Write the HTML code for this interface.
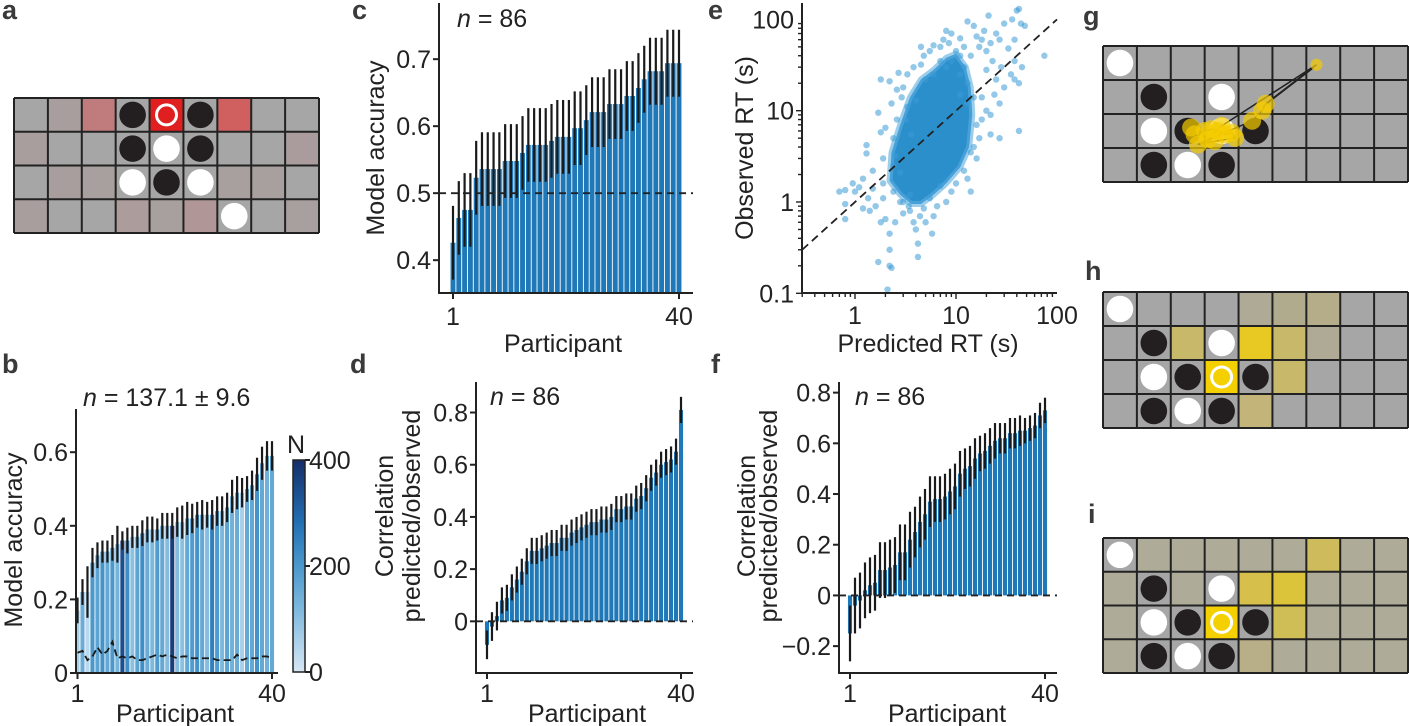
<!DOCTYPE html>
<html><head><meta charset="utf-8">
<style>
html,body{margin:0;padding:0;background:#fff;}
svg{display:block;font-family:"Liberation Sans",Arial,sans-serif;}
.tk{font-size:25px;fill:#222;}
.lab{font-size:25px;fill:#222;}
.let{font-size:27px;font-weight:bold;fill:#3a3a3a;}
</style></head>
<body>
<svg id="fig" width="1409" height="726" viewBox="0 0 1409 726" xmlns="http://www.w3.org/2000/svg"></svg>
<script>
// ---------- DATA ----------
const participants = Array.from({length:40},(_,i)=>i+1);
const accB = [0.17,0.22,0.22,0.30,0.32,0.33,0.33,0.34,0.35,0.36,0.36,0.37,0.37,0.38,0.39,0.39,0.39,0.40,0.40,0.40,0.41,0.41,0.42,0.42,0.43,0.43,0.43,0.43,0.44,0.44,0.45,0.48,0.49,0.49,0.50,0.51,0.54,0.57,0.59,0.59];
const errB = [0.035,0.035,0.07,0.04,0.035,0.03,0.03,0.035,0.05,0.025,0.035,0.03,0.03,0.035,0.035,0.035,0.03,0.035,0.035,0.035,0.04,0.045,0.045,0.04,0.035,0.04,0.035,0.04,0.04,0.04,0.04,0.045,0.045,0.04,0.035,0.04,0.045,0.045,0.04,0.04];
const nB = [60,150,40,200,170,210,160,200,130,340,220,100,170,220,150,120,190,160,110,370,110,100,160,190,210,160,110,250,190,120,170,140,150,60,160,160,210,160,140,160];
const chanceB = [0.055,0.06,0.035,0.045,0.07,0.05,0.06,0.085,0.04,0.045,0.04,0.045,0.035,0.035,0.04,0.045,0.05,0.045,0.05,0.045,0.04,0.045,0.045,0.04,0.04,0.04,0.04,0.04,0.035,0.035,0.035,0.035,0.05,0.035,0.04,0.04,0.04,0.045,0.045,0.04];
const accC = [0.426,0.463,0.475,0.475,0.523,0.536,0.536,0.536,0.536,0.548,0.548,0.548,0.560,0.572,0.572,0.572,0.572,0.578,0.584,0.584,0.584,0.597,0.597,0.609,0.621,0.621,0.621,0.633,0.633,0.633,0.645,0.645,0.657,0.670,0.682,0.682,0.682,0.694,0.694,0.694];
const errC = [0.055,0.055,0.055,0.055,0.055,0.055,0.055,0.055,0.055,0.055,0.055,0.055,0.055,0.055,0.055,0.055,0.055,0.055,0.055,0.055,0.055,0.055,0.055,0.052,0.052,0.052,0.052,0.052,0.052,0.052,0.052,0.052,0.052,0.05,0.05,0.05,0.05,0.05,0.05,0.05];
const corrD = [-0.09,-0.02,0.02,0.08,0.09,0.13,0.16,0.19,0.23,0.27,0.27,0.28,0.29,0.30,0.30,0.32,0.32,0.34,0.35,0.36,0.37,0.38,0.38,0.39,0.39,0.40,0.43,0.43,0.44,0.44,0.47,0.48,0.51,0.55,0.57,0.60,0.61,0.62,0.65,0.81];
const errD = [0.055,0.055,0.055,0.05,0.05,0.05,0.05,0.05,0.05,0.05,0.05,0.05,0.05,0.05,0.05,0.05,0.05,0.05,0.05,0.05,0.05,0.05,0.05,0.05,0.05,0.05,0.05,0.05,0.05,0.05,0.05,0.05,0.05,0.05,0.05,0.05,0.05,0.05,0.05,0.05];
const corrF = [-0.15,-0.04,-0.02,0.02,0.04,0.05,0.10,0.10,0.11,0.12,0.17,0.17,0.22,0.25,0.29,0.32,0.37,0.38,0.38,0.39,0.41,0.43,0.48,0.50,0.51,0.54,0.56,0.57,0.59,0.61,0.62,0.62,0.64,0.64,0.65,0.65,0.66,0.67,0.71,0.73];
const errF = [0.11,0.11,0.11,0.11,0.11,0.11,0.11,0.11,0.11,0.11,0.11,0.11,0.11,0.1,0.1,0.1,0.1,0.09,0.09,0.09,0.09,0.09,0.09,0.08,0.08,0.08,0.07,0.07,0.07,0.07,0.06,0.06,0.06,0.06,0.06,0.05,0.05,0.05,0.05,0.05];
// scatter e: [predicted, observed] seconds
const rtPoints = [[0.7,1.3],[0.8,1.35],[0.8,0.95],[0.8,0.65],[0.95,1.6],[1.0,1.3],[1.1,1.45],[1.2,1.8],[1.2,0.85],[1.3,4.2],[1.3,3.4],[1.35,1.1],[1.4,0.8],[1.5,2.2],[1.6,0.9],[1.7,9.5],[1.8,22],[1.8,5.8],[1.8,0.6],[1.7,0.22],[1.9,1.1],[1.9,3.0],[2.0,6.5],[2.0,0.65],[2.1,0.11],[2.2,21],[2.2,0.45],[2.2,0.3],[2.2,0.2],[2.3,0.19],[2.3,12],[2.4,2.5],[2.5,0.6],[2.6,17],[2.7,26],[2.8,1.0],[3.0,18],[3.0,0.75],[3.2,8],[3.3,25],[3.5,0.8],[3.8,30],[3.8,0.6],[4.0,0.5],[4.2,0.25],[4.2,0.35],[4.4,0.7],[4.5,50],[4.8,40],[5.5,45],[5.8,0.45],[6.0,52],[6.5,0.9],[7,50],[7.5,60],[8,75],[8.5,55],[9,70],[10,45],[11,62],[12,50],[13,95],[14,40],[15,85],[16,65],[17,50],[18,60],[19,75],[20,45],[21,110],[22,55],[23,35],[25,70],[27,60],[30,90],[33,48],[36,100],[38,60],[40,125],[42,130],[44,90],[48,85],[38,35],[45,30],[42,20],[38,22],[35,25],[30,18],[28,30],[27,12],[24,15],[22,9],[20,10],[18,8],[17,5],[15,4],[16,3],[14,3.5],[22,5.5],[27,5],[42,6],[75,40],[12,2.2],[14,1.3],[13,1.8],[16,7],[15,14],[20,28],[25,22],[18,14],[9,1.3],[8,1.0],[7,1.5],[10,1.6],[6,0.7],[5,0.6],[3.5,1.2],[2.8,2.1],[2.5,3.2],[2.4,5],[2.9,14],[3.3,11],[4,13],[5,22],[6,25],[8,30],[9,35],[11,40],[12,30],[13,20],[11,25],[7,35],[4.5,32],[1.5,1.4],[1.9,1.6],[2.4,1.3],[3,1.0],[3.4,0.9],[4.8,0.85],[5.5,1.1],[2.6,8],[3.6,5.5],[11,15],[13,12]];
const rtCore = [[2.2,1.7],[2.8,1.2],[3.6,0.95],[4.5,0.95],[6,1.2],[8,1.6],[11,2.4],[13.5,4],[14.5,9],[14,18],[12.5,30],[10,42],[8,38],[6,28],[4.5,22],[3.5,14],[2.8,7],[2.3,3.5]];
const cbTicks = [0,200,400];
const tickB = [0,0.2,0.4,0.6], tickC=[0.4,0.5,0.6,0.7], tickD=[0,0.2,0.4,0.6,0.8], tickF=[-0.2,0,0.2,0.4,0.6,0.8];
const logTicksX=[1,10,100], logTicksY=[0.1,1,10,100];

// ---------- helpers ----------
const NS="http://www.w3.org/2000/svg";
const svg=document.getElementById('fig');
function el(tag,attrs,parent,txt){const e=document.createElementNS(NS,tag);for(const k in attrs)e.setAttribute(k,attrs[k]);if(txt!==undefined)e.textContent=txt;(parent||svg).appendChild(e);return e;}
function grp(name){const g=el('g',{});return g;}
function txt(parent,x,y,s,cls,anchor,name,extra){const t=el('text',Object.assign({x:x,y:y,class:cls,'text-anchor':anchor||'start'},extra||{}),parent,s);return t;}
function blues(v){
  const stops=[[0,[215,230,245]],[0.3,[125,184,221]],[0.5,[75,152,204]],[0.7,[33,113,181]],[1,[22,45,105]]];
  for(let i=1;i<stops.length;i++){if(v<=stops[i][0]){const a=stops[i-1],b=stops[i],t=(v-a[0])/(b[0]-a[0]);return 'rgb('+a[1].map((c,j)=>Math.round(c+(b[1][j]-c)*t)).join(',')+')';}}
  return 'rgb(22,45,105)';
}

function barPanel(o){
  const g=grp(o.name);
  const x=i=>o.x1+(o.x40-o.x1)*(i-1)/39;
  const y=v=>o.y0-(v-o.v0)*o.ppu;
  const bw=(o.x40-o.x1)/39-0.9;
  const zeroY = y(o.base);
  o.vals.forEach((v,i)=>{
    const p=participants[i];
    const top=Math.min(y(v),zeroY), h=Math.abs(y(v)-zeroY);
    const r=el('rect',{x:x(p)-bw/2,y:top,width:bw,height:h,fill:o.color?o.color(i):'#1f78b8'},g);
    
    
  });
  o.vals.forEach((v,i)=>{
    const p=participants[i];
    const l=el('line',{x1:x(p),x2:x(p),y1:y(v-o.err[i]),y2:y(v+o.err[i]),stroke:'#1a1a1a','stroke-width':2.2},g);
    
    
  });
  if(o.dash!==undefined){
    const d=el('line',{x1:o.ax,x2:o.axr,y1:y(o.dash),y2:y(o.dash),stroke:'#222','stroke-width':1.8,'stroke-dasharray':'7,5'},g);
    
  }
  const ya=el('path',{d:`M${o.ax},${o.top}V${o.y0}H${o.axr}`,fill:'none',stroke:'#222','stroke-width':2},g);
  
  o.ticks.forEach(t=>{
    el('line',{x1:o.ax-6,x2:o.ax,y1:y(t),y2:y(t),stroke:'#222','stroke-width':2},g);
    txt(g,o.ax-8,y(t)+9,String(t).replace('-','\u2212'),'tk','end','y-tick-label');
  });
  [1,40].forEach(p=>{el('line',{x1:x(p),x2:x(p),y1:o.y0,y2:o.y0+6,stroke:'#222','stroke-width':2},g);
    txt(g,x(p),o.tkY,String(p),'tk','middle','x-tick-label');});
  txt(g,o.xlabX,o.xlabY,'Participant','lab','middle','x-axis-title');
  return {g,x,y};
}

// ---------- panel b ----------
const pb=barPanel({name:'panel-b-chart',x1:77.5,x40:272,ax:76,axr:278,top:409,y0:673,v0:0,base:0,ppu:368,vals:accB,err:errB,ticks:tickB,
  color:i=>blues(nB[i]/400),tkY:702,xlabX:175,xlabY:722});
{
  const pts=chanceB.map((v,i)=>pb.x(participants[i])+','+pb.y(v)).join(' ');
  const pl=el('polyline',{points:pts,fill:'none',stroke:'#1a1a1a','stroke-width':1.8,'stroke-dasharray':'7,4'},pb.g);
  
  const cb=grp('colorbar');
  const defs=el('defs',{},cb);const lg=el('linearGradient',{id:'cbg',x1:0,y1:1,x2:0,y2:0},defs);
  for(let s=0;s<=10;s++)el('stop',{offset:s/10,'stop-color':blues(s/10)},lg);
  el('rect',{x:293,y:460,width:12,height:212,fill:'url(#cbg)',stroke:'#222','stroke-width':1.5},cb);
  cbTicks.forEach(t=>{const yy=672-t/400*212;el('line',{x1:305,x2:310,y1:yy,y2:yy,stroke:'#222','stroke-width':2},cb);txt(cb,309,yy+9,String(t),'tk','start','colorbar-tick');});
  txt(cb,287,453,'N','tk','start','colorbar-title');
}
txt(svg,83,406,'','lab','start','panel-b-n').innerHTML='<tspan font-style="italic">n</tspan> = 137.1 ± 9.6';
txt(svg,0,0,'Model accuracy','lab','middle','y-axis-title',{transform:'translate(22,540) rotate(-90)'});

// ---------- panel c ----------
barPanel({name:'panel-c-chart',x1:453,x40:679,ax:439,axr:693,top:3,y0:293,v0:0.351,base:0.351,ppu:670,vals:accC,err:errC,ticks:tickC,dash:0.5,tkY:325,xlabX:563,xlabY:352});
txt(svg,457,27,'','lab','start','panel-c-n').innerHTML='<tspan font-style="italic">n</tspan> = 86';
txt(svg,0,0,'Model accuracy','lab','middle','y-axis-title',{transform:'translate(384,148) rotate(-90)'});

// ---------- panel d ----------
barPanel({name:'panel-d-chart',x1:487,x40:681,ax:476,axr:693,top:382,y0:673,v0:-0.198,base:0,ppu:261,vals:corrD,err:errD,ticks:tickD,dash:0,tkY:702,xlabX:587,xlabY:722});
txt(svg,490,405,'','lab','start','panel-d-n').innerHTML='<tspan font-style="italic">n</tspan> = 86';
txt(svg,0,0,'Correlation','lab','middle','y-axis-title',{transform:'translate(393,516) rotate(-90)'});
txt(svg,0,0,'predicted/observed','lab','middle','y-axis-title',{transform:'translate(420,516) rotate(-90)'});

// ---------- panel f ----------
barPanel({name:'panel-f-chart',x1:850,x40:1045,ax:839,axr:1057,top:382,y0:673,v0:-0.306,base:0,ppu:253.5,vals:corrF,err:errF,ticks:tickF,dash:0,tkY:702,xlabX:947,xlabY:722});
txt(svg,855,405,'','lab','start','panel-f-n').innerHTML='<tspan font-style="italic">n</tspan> = 86';
txt(svg,0,0,'Correlation','lab','middle','y-axis-title',{transform:'translate(755,516) rotate(-90)'});
txt(svg,0,0,'predicted/observed','lab','middle','y-axis-title',{transform:'translate(777,516) rotate(-90)'});

// ---------- panel e ----------
{
  const g=grp('panel-e-chart');
  const X=v=>855+101*Math.log10(v), Y=v=>202-91.3*Math.log10(v);
  const core=el('polygon',{points:rtCore.map(p=>X(p[0])+','+Y(p[1])).join(' '),fill:'#2b8fcc','stroke':'#5aaee0','stroke-width':6,'stroke-linejoin':'round','stroke-opacity':0.6},g);
  
  rtPoints.forEach(p=>{const c=el('circle',{cx:X(p[0]),cy:Y(p[1]),r:3.2,fill:'#3a9ad6','fill-opacity':0.55},g);
    });
  const d=el('line',{x1:X(0.3),y1:Y(0.3),x2:X(100),y2:Y(100),stroke:'#222','stroke-width':1.8,'stroke-dasharray':'8,5'},g);
  
  el('path',{d:'M802,3V293H1057',fill:'none',stroke:'#222','stroke-width':2},g);
  for(let dec=-1;dec<2;dec++)for(let m=1;m<10;m++){const v=m*Math.pow(10,dec);if(v<0.3)continue;el('line',{x1:X(v),x2:X(v),y1:293,y2:m==1?299:297,stroke:'#222','stroke-width':1.4},g);}
  for(let dec=-1;dec<2;dec++)for(let m=1;m<10;m++){const v=m*Math.pow(10,dec);if(Y(v)<3)continue;el('line',{x1:802,x2:m==1?796:798,y1:Y(v),y2:Y(v),stroke:'#222','stroke-width':1.4},g);}
  logTicksX.forEach(v=>txt(g,X(v),324,String(v),'tk','middle','x-tick-label'));
  logTicksY.forEach(v=>txt(g,794,Y(v)+9,String(v),'tk','end','y-tick-label'));
  txt(g,928,352,'Predicted RT (s)','lab','middle','x-axis-title');
  txt(g,0,0,'Observed RT (s)','lab','middle','y-axis-title',{transform:'translate(753,148) rotate(-90)'});
}

// ---------- boards ----------
const G='#a6a6a6';
const boardA=[[G,'#a89e9e','#c07c7c',G,'#e02020',G,'#d06060',G,G],['#a89e9e',G,G,G,G,G,G,G,'#aa9c9c'],[G,'#a89e9e','#a8a09e',G,G,G,'#a8a09e','#a8a09e',G],['#a89e9e',G,G,'#ad9c9c','#a8a09e','#b09696',G,G,'#a8a09e']];
const piecesA=[[0,3,'b'],[0,4,'r'],[0,5,'b'],[1,3,'b'],[1,4,'w'],[1,5,'b'],[2,3,'w'],[2,4,'b'],[2,5,'w'],[3,6,'w']];
const T1='#aeaa96',T2='#b1ab8e',Y2='#c8b96a';
const boardH=[[G,G,G,G,T1,T2,'#b5ad8a',G,G],[G,G,Y2,G,'#e8c822',Y2,T1,G,G],[G,G,G,'#f5d000',G,Y2,G,G,G],[G,G,G,G,'#c3b57a',G,G,G,G]];
const K='#aeac98';
const boardI=[[G,K,K,K,K,K,'#cdbb5c',K,K],[K,G,K,G,'#d6bf4a','#dcc43a',K,K,K],[K,G,G,'#f5d000',G,'#cfbd55',K,K,K],[K,G,G,G,'#b8ae88',K,K,K,K]];
const boardG=[[G,G,G,G,G,G,G,G,G],[G,G,G,G,G,G,G,G,G],[G,G,G,G,G,G,G,G,G],[G,G,G,G,G,G,G,G,G]];
const piecesHG=[[0,0,'w'],[1,1,'b'],[1,3,'w'],[2,1,'w'],[2,2,'b'],[2,3,'r'],[2,4,'b'],[3,1,'b'],[3,2,'w'],[3,3,'b']];
const piecesG=[[0,0,'w'],[1,1,'b'],[1,3,'w'],[2,1,'w'],[2,2,'b'],[2,3,'w'],[2,4,'b'],[3,1,'b'],[3,2,'w'],[3,3,'b']];
const gazeX=[2.6,2.7,3.0,3.2,3.4,3.6,3.8,3.9,3.3,2.8,4.4,4.7,4.8,6.3,3.5,3.1];
const gazeY=[2.4,2.6,2.5,2.45,2.5,2.6,2.55,2.7,2.8,2.9,2.2,1.9,1.7,0.55,2.35,2.75];
function board(name,x0,y0,colors,pieces){
  const g=grp(name);const cw=(1408-1103)/9, ch=(y0.h)/4;
  colors.forEach((row,r)=>row.forEach((c,k)=>{const rc=el('rect',{x:x0+k*cw,y:y0.y+r*ch,width:cw,height:ch,fill:c},g);}));
  for(let k=0;k<=9;k++)el('line',{x1:x0+k*cw,x2:x0+k*cw,y1:y0.y,y2:y0.y+4*ch,stroke:'#222','stroke-width':2},g);
  for(let r=0;r<=4;r++)el('line',{x1:x0,x2:x0+9*cw,y1:y0.y+r*ch,y2:y0.y+r*ch,stroke:'#222','stroke-width':2},g);
  pieces.forEach(p=>{const cx=x0+(p[1]+0.5)*cw,cy=y0.y+(p[0]+0.5)*ch;
    const c=p[2]=='r'?el('circle',{cx,cy,r:10,fill:'none',stroke:'#fff','stroke-width':3},g):el('circle',{cx,cy,r:13.3,fill:p[2]=='b'?'#231f20':'#fff'},g);
    });
  return {g,cw,ch};
}
board('board-a',14,{y:98,h:135},boardA,piecesA);
const bg=board('board-g',1103,{y:46,h:136},boardG,piecesG);
{ const g=bg.g; const px=i=>1103+gazeX[i]*bg.cw, py=i=>46+gazeY[i]*bg.ch;
  el('polyline',{points:gazeX.map((_,i)=>px(i)+','+py(i)).join(' '),fill:'none',stroke:'#222','stroke-width':1.5},g);
  el('line',{x1:px(13)-3,y1:py(13)+3,x2:px(12)-3,y2:py(12)+3,stroke:'#222','stroke-width':1.5},g);
  gazeX.forEach((_,i)=>{const c=el('circle',{cx:px(i),cy:py(i),r:i==13?6:9,fill:'#f5cc00','fill-opacity':0.7},g);
    });
}
board('board-h',1103,{y:292,h:136},boardH,piecesHG);
board('board-i',1103,{y:538,h:135},boardI,piecesHG);

[['a',2,19],['b',2,373],['c',352,19],['d',350,373],['e',708,19],['f',711,373],['g',1083,25],['h',1085,280],['i',1088,523]].forEach(l=>txt(svg,l[1],l[2],l[0],'let','start','panel-label-'+l[0]));
</script>
</body></html>
